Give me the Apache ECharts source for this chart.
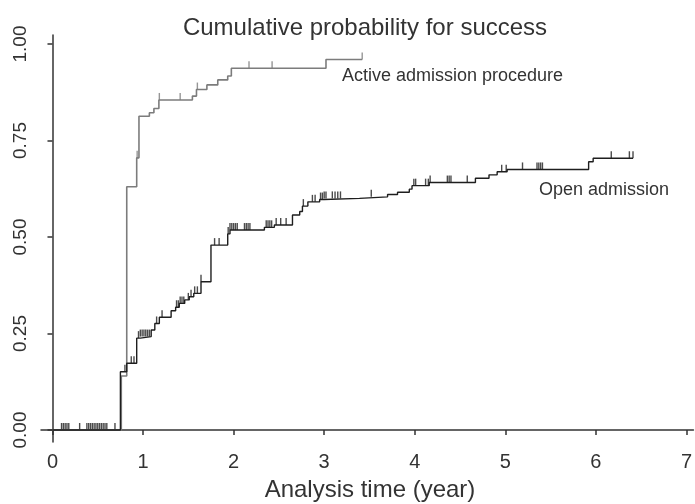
<!DOCTYPE html>
<html>
<head>
<meta charset="utf-8">
<script src="https://cdn.jsdelivr.net/npm/echarts@6/dist/echarts.min.js"></script>
<style>
  html, body { margin: 0; padding: 0; background: #fff; }
  #chart { width: 695px; height: 504px; }
</style>
</head>
<body>
<div id="chart"></div>
<script>
// tick labels
var xTicks = [0, 1, 2, 3, 4, 5, 6, 7];
var yTicks = [0, 0.25, 0.5, 0.75, 1];

// Active admission procedure: step points (time, cumulative probability)
var activeTime = [0, 0.76, 0.82, 0.93, 0.955, 1.07, 1.12, 1.175, 1.545, 1.59, 1.705, 1.825, 1.935, 1.975, 3.02, 3.42];
var activeProb = [0, 0.14, 0.63, 0.705, 0.813, 0.822, 0.833, 0.855, 0.865, 0.882, 0.894, 0.907, 0.917, 0.937, 0.960, 0.960];
var activeCensor = [0.935, 1.18, 1.41, 1.60, 2.17, 2.425, 3.42];

// Open admission
var openTime = [0, 0.75, 0.82, 0.93, 0.97, 1.09, 1.13, 1.18, 1.31, 1.36, 1.40, 1.46, 1.51, 1.56, 1.64, 1.75,
  1.935, 1.96, 2.34, 2.45, 2.65, 2.73, 2.76, 2.82, 2.95, 3.00, 3.39, 3.70, 3.81, 3.94, 3.97, 4.16,
  4.67, 4.82, 4.91, 5.02, 5.92, 5.97, 6.41];
var openProb = [0, 0.151, 0.173, 0.238, 0.242, 0.259, 0.276, 0.292, 0.309, 0.318, 0.328, 0.337, 0.345, 0.354, 0.384, 0.479,
  0.508, 0.518, 0.525, 0.531, 0.557, 0.566, 0.580, 0.591, 0.597, 0.600, 0.604, 0.610, 0.616, 0.624, 0.633, 0.641,
  0.652, 0.661, 0.669, 0.675, 0.695, 0.704, 0.704];
var openCensor = [0.10, 0.12, 0.14, 0.16, 0.18, 0.30, 0.38, 0.40, 0.42, 0.44, 0.46, 0.48, 0.50, 0.52, 0.54, 0.56,
  0.58, 0.60, 0.69, 0.80, 0.87, 0.90, 0.95, 0.97, 0.99, 1.01, 1.03, 1.05, 1.07, 1.15, 1.21, 1.37, 1.39,
  1.41, 1.43, 1.45, 1.50, 1.53, 1.57, 1.60, 1.64, 1.79, 1.84, 1.94, 1.96, 1.98, 2.00, 2.02, 2.04,
  2.12, 2.14, 2.16, 2.18, 2.36, 2.38, 2.40, 2.42, 2.47, 2.52, 2.58, 2.77, 2.87, 2.90, 2.96, 2.98,
  3.00, 3.02, 3.09, 3.12, 3.15, 3.18, 3.52, 3.99, 4.01, 4.12, 4.15, 4.17, 4.36, 4.38, 4.40, 4.58,
  4.96, 5.01, 5.19, 5.35, 5.37, 5.39, 5.41, 6.17, 6.37, 6.41];

function pairs(xs, ys) {
  return xs.map(function (x, i) { return [x, ys[i]]; });
}
// value of the step curve at time t
function stepAt(xs, ys, t) {
  var v = ys[0];
  for (var i = 0; i < xs.length; i++) {
    if (xs[i] <= t) v = ys[i];
  }
  return v;
}
function censorPts(ts, xs, ys) {
  return ts.map(function (t) { return [t, stepAt(xs, ys, t)]; });
}

var txt = '#333';
var font = '"Liberation Sans", Arial, Helvetica, sans-serif';

var myChart = echarts.init(document.getElementById('chart'));
myChart.setOption({
  animation: false,
  grid: { left: 41, right: 0, top: 35, bottom: 62 },
  xAxis: {
    type: 'value',
    min: -0.1267,
    max: 7.077,
    splitLine: { show: false },
    axisLine: { lineStyle: { color: '#333', width: 1.5 } },
    axisTick: { customValues: xTicks, length: 5, lineStyle: { color: '#333', width: 1.5 } },
    axisLabel: { customValues: xTicks, margin: 10, fontSize: 20, color: txt, fontFamily: font }
  },
  yAxis: {
    type: 'value',
    min: -0.0311,
    max: 1.0233,
    splitLine: { show: false },
    axisLine: { show: true, lineStyle: { color: '#333', width: 1.5 } },
    axisTick: { show: true, customValues: yTicks, length: 5, lineStyle: { color: '#333', width: 1.5 } },
    axisLabel: {
      customValues: yTicks, rotate: 90, margin: 11, fontSize: 19, color: txt, fontFamily: font,
      formatter: function (v) { return v.toFixed(2); }
    }
  },
  graphic: [
    { type: 'text', style: { text: 'Cumulative probability for success', x: 365, y: 28.5, font: '24px ' + font, fill: txt, align: 'center', verticalAlign: 'middle', textAlign: 'center', textVerticalAlign: 'middle' } },
    { type: 'text', style: { text: 'Active admission procedure', x: 342, y: 76.5, font: '18px ' + font, fill: txt, align: 'left', verticalAlign: 'middle', textAlign: 'left', textVerticalAlign: 'middle' } },
    { type: 'text', style: { text: 'Open admission', x: 539, y: 190.5, font: '18px ' + font, fill: txt, align: 'left', verticalAlign: 'middle', textAlign: 'left', textVerticalAlign: 'middle' } },
    { type: 'text', style: { text: 'Analysis time (year)', x: 370, y: 490.5, font: '24px ' + font, fill: txt, align: 'center', verticalAlign: 'middle', textAlign: 'center', textVerticalAlign: 'middle' } }
  ],
  series: [
    {
      name: 'Active admission procedure',
      type: 'line',
      step: 'end',
      symbol: 'none',
      data: pairs(activeTime, activeProb),
      lineStyle: { color: '#7c7c7c', width: 1.6 }
    },
    {
      name: 'Open admission',
      type: 'line',
      step: 'end',
      symbol: 'none',
      data: pairs(openTime, openProb),
      lineStyle: { color: '#1e1e1e', width: 1.4 }
    },
    {
      type: 'scatter',
      symbol: 'rect',
      symbolSize: [1.4, 7],
      symbolOffset: [0, -3.5],
      itemStyle: { color: '#7c7c7c' },
      data: censorPts(activeCensor, activeTime, activeProb)
    },
    {
      type: 'scatter',
      symbol: 'rect',
      symbolSize: [1.4, 7],
      symbolOffset: [0, -3.5],
      itemStyle: { color: '#1e1e1e' },
      data: censorPts(openCensor, openTime, openProb)
    }
  ]
});
</script>
</body>
</html>
